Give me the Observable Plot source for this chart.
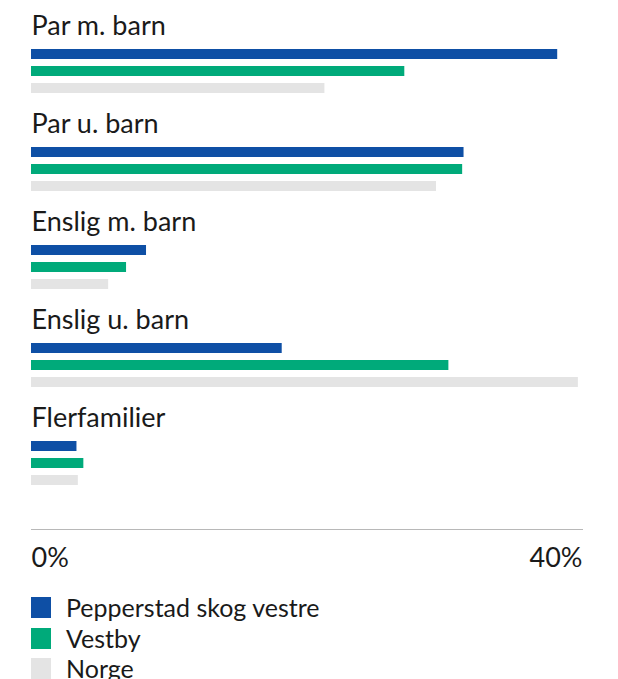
<!DOCTYPE html>
<html><head><meta charset="utf-8">
<script src="https://cdn.jsdelivr.net/npm/d3@7"></script>
<script src="https://cdn.jsdelivr.net/npm/@observablehq/plot@0.6"></script>
<style>
body{margin:0;background:#fff;font-family:Lato,sans-serif;color:#1a1a1a}
#chart svg{display:block}
#legend{margin-top:7.25px;padding-left:31px}
.row{display:flex;align-items:center;height:30.5px;font-size:25px;line-height:1}
.sw{width:20px;height:21px;margin-right:15px;flex:none}
</style></head><body>
<div id="chart"></div>
<div id="legend"></div>
<script>
const categories = ["Par m. barn","Par u. barn","Enslig m. barn","Enslig u. barn","Flerfamilier"];
const series = ["Pepperstad skog vestre","Vestby","Norge"];
const colors = ["#0e4fa5","#00aa7a","#e4e4e4"];
const pepperstad = [38.2,31.4,8.35,18.2,3.3];
const vestby = [27.1,31.3,6.9,30.3,3.8];
const norge = [21.3,29.4,5.6,39.7,3.4];
const xTicks = [0,40];
const seriesValues = [pepperstad, vestby, norge];

const data = categories.flatMap((c,i)=>series.map((s,j)=>({category:c, series:s, value:seriesValues[j][i]})));

const chart = Plot.plot({
  width:618, height:585,
  marginLeft:31, marginRight:36, marginTop:38, marginBottom:55,
  style:{fontFamily:"Lato, sans-serif", fontSize:"27px", color:"#1a1a1a", background:"#fff"},
  fy:{domain:categories, padding:0, axis:null},
  x:{domain:[0,40], axis:null},
  y:{domain:series, range:[44.2,95.2], paddingInner:0.41, paddingOuter:0.205, axis:null},
  color:{domain:series, range:colors},
  marks:[
    Plot.barX(data,{x:"value", y:"series", fy:"category", fill:"series"}),
    Plot.text(categories,{fy:d=>d, text:d=>d, frameAnchor:"top-left", lineAnchor:"bottom", dy:-4.7, fontSize:27, fill:"#1a1a1a"}),
    Plot.frame({anchor:"bottom", facet:"super", stroke:"#b8b8b8"}),
    Plot.axisX([xTicks[0]],{textAnchor:"start", tickSize:0, tickPadding:18, tickFormat:d=>d+"%", fontSize:27, fill:"#1a1a1a", label:null}),
    Plot.axisX([xTicks[1]],{textAnchor:"end", tickSize:0, tickPadding:18, tickFormat:d=>d+"%", fontSize:27, fill:"#1a1a1a", label:null})
  ]
});
document.getElementById("chart").appendChild(chart);

const legend = document.getElementById("legend");
series.forEach((s,i)=>{
  const row = document.createElement("div"); row.className="row";
  const sw = document.createElement("div"); sw.className="sw"; sw.style.background=colors[i];
  const t = document.createElement("span"); t.textContent=s;
  row.appendChild(sw); row.appendChild(t); legend.appendChild(row);
});
</script>
</body></html>
